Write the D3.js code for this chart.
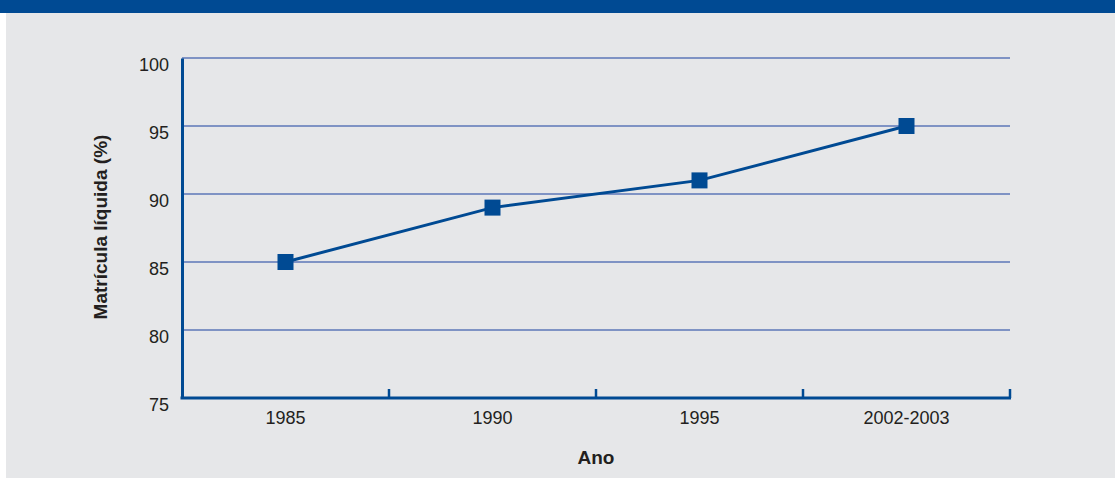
<!DOCTYPE html>
<html>
<head>
<meta charset="utf-8">
<script src="https://cdn.jsdelivr.net/npm/d3@7/dist/d3.min.js"></script>
<style>
  html, body { margin: 0; padding: 0; background: #ffffff; }
  svg { display: block; }
  text { font-family: "Liberation Sans", Arial, Helvetica, sans-serif; fill: #231f20; }
</style>
</head>
<body>
<svg id="chart" width="1115" height="478"></svg>
<script>
// Net enrolment rate by period
const categories = ["1985", "1990", "1995", "2002-2003"];
const values = [85, 89, 91, 95];
const yTicks = [75, 80, 85, 90, 95, 100];

const W = 1115, H = 478;
const margin = { left: 182, right: W - 1010, top: 58, bottom: H - 398 };
const blue = "#004a93";
const gridBlue = "#7f93c4";

const svg = d3.select("#chart");

// panel background and header band
svg.append("rect").attr("x", 6).attr("y", 0).attr("width", W - 6).attr("height", H).attr("fill", "#e6e7e9");
svg.append("rect").attr("x", 0).attr("y", 0).attr("width", W).attr("height", 13).attr("fill", blue);

const x = d3.scaleBand().domain(categories).range([margin.left, W - margin.right]).padding(0);
const y = d3.scaleLinear().domain([75, 100]).range([H - margin.bottom, margin.top]);

// horizontal grid
svg.append("g")
  .selectAll("line")
  .data(yTicks.filter(d => d > 75))
  .join("line")
  .attr("x1", margin.left).attr("x2", W - margin.right)
  .attr("y1", d => y(d)).attr("y2", d => y(d))
  .attr("stroke", gridBlue).attr("stroke-width", 2);

// y axis
const yAxis = svg.append("g")
  .attr("transform", `translate(${margin.left},0)`)
  .call(d3.axisLeft(y).tickValues(yTicks).tickSize(0).tickPadding(13));
yAxis.select(".domain").attr("stroke", blue).attr("stroke-width", 3);
yAxis.selectAll("text")
  .attr("font-size", 18)
  .attr("dy", "0.7em")
  .attr("fill", "#231f20")
  .attr("font-family", "'Liberation Sans', Arial, sans-serif");

// x axis: band boundaries as upward ticks
const xAxisY = y(75);
svg.append("line")
  .attr("x1", margin.left - 1.5).attr("x2", W - margin.right + 1)
  .attr("y1", xAxisY).attr("y2", xAxisY)
  .attr("stroke", blue).attr("stroke-width", 3);
const bounds = categories.slice(1).map(c => x(c)).concat([x(categories[categories.length - 1]) + x.bandwidth()]);
svg.append("g").selectAll("line")
  .data(bounds)
  .join("line")
  .attr("x1", d => d).attr("x2", d => d)
  .attr("y1", xAxisY).attr("y2", xAxisY - 9)
  .attr("stroke", blue).attr("stroke-width", 2.5);
svg.append("g").selectAll("text")
  .data(categories)
  .join("text")
  .attr("x", d => x(d) + x.bandwidth() / 2)
  .attr("y", xAxisY + 26)
  .attr("text-anchor", "middle")
  .attr("font-size", 18)
  .text(d => d);

// axis titles
svg.append("text")
  .attr("x", (margin.left + W - margin.right) / 2)
  .attr("y", 464)
  .attr("text-anchor", "middle")
  .attr("font-size", 19).attr("font-weight", "bold")
  .text("Ano");
svg.append("text")
  .attr("transform", `translate(107,227) rotate(-90)`)
  .attr("text-anchor", "middle")
  .attr("font-size", 19).attr("font-weight", "bold")
  .text("Matrícula líquida (%)");

// series line and square markers
const pts = categories.map((c, i) => ({ c, v: values[i] }));
svg.append("path")
  .datum(pts)
  .attr("fill", "none")
  .attr("stroke", blue).attr("stroke-width", 3)
  .attr("d", d3.line().x(d => x(d.c) + x.bandwidth() / 2).y(d => y(d.v)));
const s = 16;
svg.append("g").selectAll("rect")
  .data(pts)
  .join("rect")
  .attr("x", d => x(d.c) + x.bandwidth() / 2 - s / 2)
  .attr("y", d => y(d.v) - s / 2)
  .attr("width", s).attr("height", s)
  .attr("fill", blue);
</script>
</body>
</html>
